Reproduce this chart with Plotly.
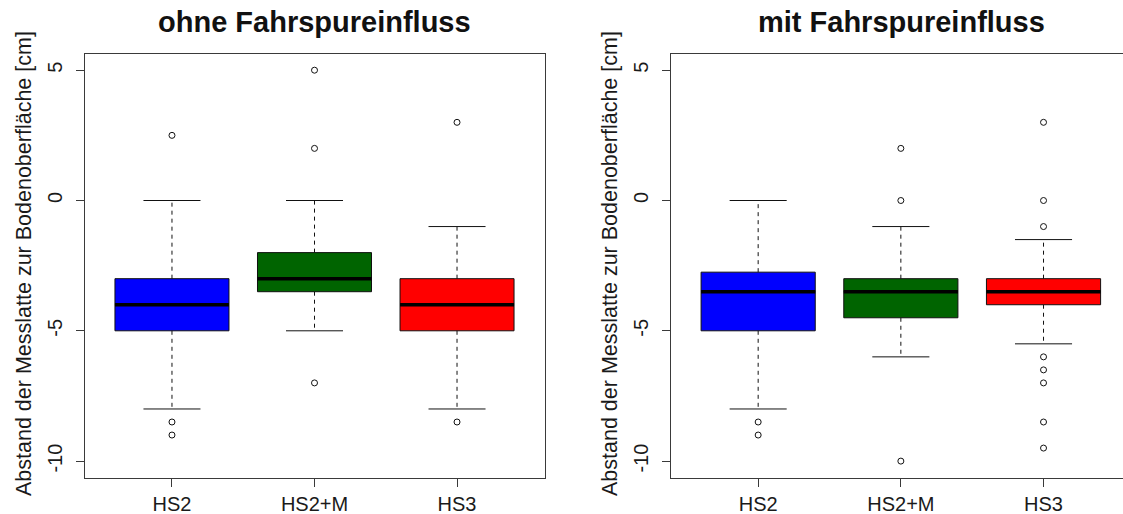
import plotly.graph_objects as go

# Categories
groups = ["HS2", "HS2+M", "HS3"]
colors = ["#0000FF", "#006400", "#FF0000"]

# ohne Fahrspureinfluss: box statistics
ohne_lower = [-8, -5, -8]
ohne_q1 = [-5, -3.5, -5]
ohne_median = [-4, -3, -4]
ohne_q3 = [-3, -2, -3]
ohne_upper = [0, 0, -1]
ohne_outliers = [[2.5, -8.5, -9], [5, 2, -7], [3, -8.5]]

# mit Fahrspureinfluss: box statistics
mit_lower = [-8, -6, -5.5]
mit_q1 = [-5, -4.5, -4]
mit_median = [-3.5, -3.5, -3.5]
mit_q3 = [-2.75, -3, -3]
mit_upper = [0, -1, -1.5]
mit_outliers = [[-8.5, -9], [2, 0, -10], [3, 0, -1, -6, -6.5, -7, -8.5, -9.5]]

y_ticks = [-10, -5, 0, 5]
titles = ["ohne Fahrspureinfluss", "mit Fahrspureinfluss"]
y_title = "Abstand der Messlatte zur Bodenoberfläche [cm]"

W, H = 1123, 514
FONT = "Liberation Sans, Arial, sans-serif"
BOX_W = 0.8
CAP_W = 0.4

fig = go.Figure()


def add_panel(lower, q1, med, q3, upper, outliers, xa, ya):
    for i, g in enumerate(groups):
        x = i + 1
        # box body (whiskers drawn separately, dashed)
        fig.add_trace(go.Box(
            x=[x], q1=[q1[i]], median=[med[i]], q3=[q3[i]],
            lowerfence=[q1[i]], upperfence=[q3[i]],
            width=BOX_W, whiskerwidth=0, fillcolor=colors[i],
            line=dict(color="#111111", width=1), boxpoints=False,
            xaxis=xa, yaxis=ya, showlegend=False, hoverinfo="skip"))
        # dashed whiskers
        fig.add_trace(go.Scatter(
            x=[x, x, None, x, x], y=[q3[i], upper[i], None, q1[i], lower[i]],
            mode="lines", line=dict(color="#111111", width=1, dash="4px,4px"),
            xaxis=xa, yaxis=ya, showlegend=False, hoverinfo="skip"))
        # whisker caps
        fig.add_trace(go.Scatter(
            x=[x - CAP_W / 2, x + CAP_W / 2, None, x - CAP_W / 2, x + CAP_W / 2],
            y=[upper[i], upper[i], None, lower[i], lower[i]],
            mode="lines", line=dict(color="#111111", width=1),
            xaxis=xa, yaxis=ya, showlegend=False, hoverinfo="skip"))
        # thick median
        fig.add_trace(go.Scatter(
            x=[x - BOX_W / 2, x + BOX_W / 2], y=[med[i], med[i]],
            mode="lines", line=dict(color="#000000", width=3.5),
            xaxis=xa, yaxis=ya, showlegend=False, hoverinfo="skip"))
        # outliers
        fig.add_trace(go.Scatter(
            x=[x] * len(outliers[i]), y=outliers[i], mode="markers",
            marker=dict(symbol="circle-open", size=6, color="#111111",
                        line=dict(width=1)),
            xaxis=xa, yaxis=ya, showlegend=False, hoverinfo="skip"))


add_panel(ohne_lower, ohne_q1, ohne_median, ohne_q3, ohne_upper, ohne_outliers, "x", "y")
add_panel(mit_lower, mit_q1, mit_median, mit_q3, mit_upper, mit_outliers, "x2", "y2")

frame_col = "#3a3a3a"
x_common = dict(tickmode="array", tickvals=[1, 2, 3], ticktext=groups,
                showgrid=False, zeroline=False, showline=True, linecolor=frame_col,
                linewidth=1, ticks="outside", ticklen=8, tickcolor=frame_col,
                tickfont=dict(family=FONT, size=20, color="#1a1a1a"))
y_common = dict(tickmode="array", tickvals=y_ticks, ticktext=[str(v) for v in y_ticks],
                range=[-10.66, 5.61], showgrid=False, zeroline=False, showline=True,
                linecolor=frame_col, linewidth=1, ticks="outside", ticklen=8,
                tickcolor=frame_col, tickangle=-90, ticklabelstandoff=6,
                tickfont=dict(family=FONT, size=20, color="#1a1a1a"))

y_dom = [35.7 / H, 459.7 / H]
fig.update_layout(
    width=W, height=H, margin=dict(l=0, r=0, t=0, b=0),
    paper_bgcolor="white", plot_bgcolor="white",
    xaxis=dict(domain=[84.6 / W, 545.4 / W], range=[0.387, 3.62], anchor="y",
               mirror=True, **x_common),
    yaxis=dict(domain=y_dom, anchor="x", mirror=True, **y_common),
    xaxis2=dict(domain=[670.7 / W, 1.0], range=[0.387, 3.557], anchor="y2",
                mirror=True, **x_common),
    yaxis2=dict(domain=y_dom, anchor="x2", mirror=False, **y_common),
)

# panel titles
for xc, t in [(314 / W, titles[0]), (901 / W, titles[1])]:
    fig.add_annotation(x=xc, y=(H - 22) / H, xref="paper", yref="paper",
                       text="<b>" + t + "</b>", showarrow=False,
                       xanchor="center", yanchor="middle",
                       font=dict(family=FONT, size=29, color="#111111"))

# y-axis titles
for xc in [24 / W, 610 / W]:
    fig.add_annotation(x=xc, y=(H - 264) / H, xref="paper", yref="paper",
                       text=y_title, textangle=-90, showarrow=False,
                       xanchor="center", yanchor="middle",
                       font=dict(family=FONT, size=21.5, color="#1a1a1a"))

fig.write_html("out.html")
